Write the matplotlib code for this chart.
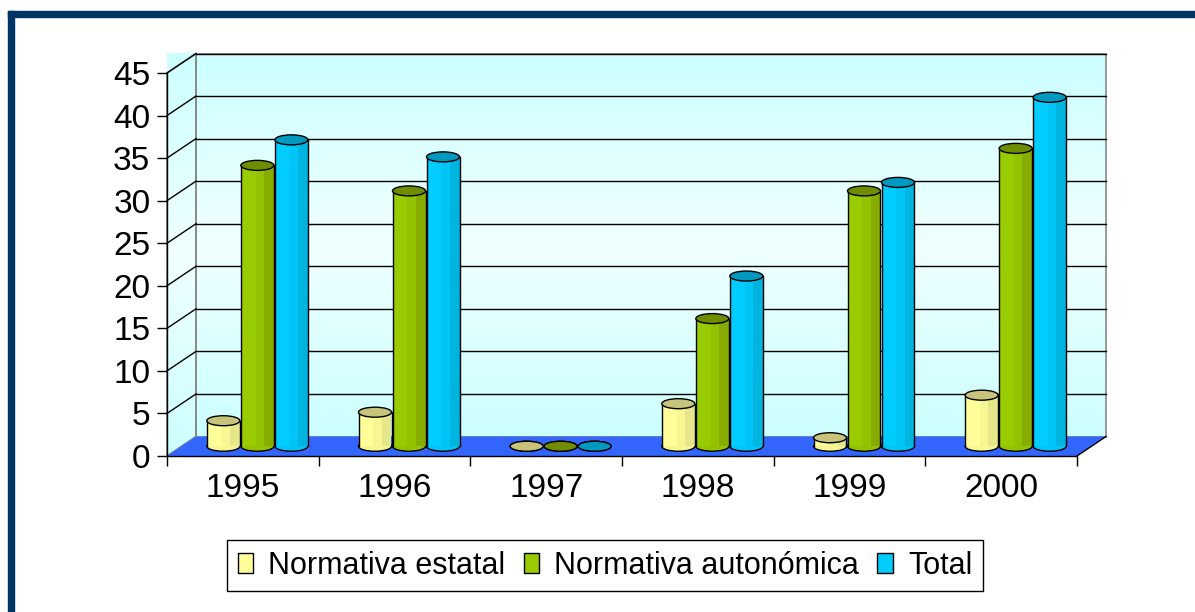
import numpy as np
import matplotlib.pyplot as plt
from matplotlib.patches import Polygon, Ellipse, Rectangle, Patch
from matplotlib.colors import to_rgb

plt.rcParams['font.family'] = ['Liberation Sans', 'DejaVu Sans']

# data
years = ['1995', '1996', '1997', '1998', '1999', '2000']
estatal = [3, 4, 0, 5, 1, 6]
autonomica = [33, 30, 0, 15, 30, 35]
total = [36, 34, 0, 20, 31, 41]
series_names = ['Normativa estatal', 'Normativa autonómica', 'Total']
yticks = list(range(0, 50, 5))

# colours: body light / mid / dark, top of cylinder
body = [['#FFFF99', '#F6F692', '#E6E68A'],
        ['#99CC00', '#92C200', '#86AC00'],
        ['#00CCFF', '#00C4F5', '#00B4E0']]
tops = ['#C8C47C', '#6E8E00', '#0099C0']

W, H = 1195, 612
fig = plt.figure(figsize=(W / 100, H / 100), dpi=100)

# dark frame (top and left only visible)
fig.add_artist(Rectangle((8 / W, 1 - 16.5 / H), 1, 6 / H, color='#003366',
                         transform=fig.transFigure))
fig.add_artist(Rectangle((8 / W, 0), 6 / W, 1 - 10.5 / H, color='#003366',
                         transform=fig.transFigure))

ax = fig.add_axes([167 / W, 1 - 456 / H, 910 / W, 383 / H])
n = len(years)
ymax = 45
DX = 29 / 910 * n      # depth offset in data units
DY = 19.5 / 383 * ymax


def wall_gradient():
    t = np.linspace(0, 1, 200)
    w = np.abs(t - 0.5) * 2
    light = np.array(to_rgb('#F0FFFF'))
    cyan = np.array(to_rgb('#CCFFFF'))
    cols = light[None, :] * (1 - w[:, None]) + cyan[None, :] * w[:, None]
    return cols[:, None, :]


# back wall
ax.imshow(wall_gradient(), extent=[DX, n + DX, DY, ymax + DY], origin='lower',
          aspect='auto', zorder=0, clip_on=False)
ax.add_patch(Rectangle((DX, DY), n, ymax, fill=False, ec='#888888', lw=1.2,
                       zorder=0.5, clip_on=False))

# side wall
side = Polygon([(0, 0), (0, ymax), (DX, ymax + DY), (DX, DY)], closed=True,
               fill=False, ec='#888888', lw=1.2, zorder=0.5, clip_on=False)
ax.add_patch(side)
im = ax.imshow(wall_gradient(), extent=[0, DX, 0, ymax + DY], origin='lower',
               aspect='auto', zorder=0, clip_on=False)
im.set_clip_path(side)

# gridlines on both walls
for v in yticks[1:]:
    ax.plot([DX, n + DX], [v + DY, v + DY], color='black', lw=1, zorder=0.6, clip_on=False)
    ax.plot([0, DX], [v, v + DY], color='black', lw=1, zorder=0.6, clip_on=False)

# floor
ax.add_patch(Polygon([(0, 0), (n, 0), (n + DX, DY), (DX, DY)], closed=True,
                     fc='#3366FF', ec='none', zorder=1, clip_on=False))
ax.plot([n, n + DX], [0, DY], color='black', lw=1, zorder=1.1, clip_on=False)

# cylinders
series = [estatal, autonomica, total]
bw = 33 / 910 * n
step = 34 / 910 * n
eh = 10 / 383 * ymax
base = DY / 2
fr = [0, 0.45, 0.7, 1]
for i in range(n):
    for j, vals in enumerate(series):
        xc = i + 0.5 + (j - 1) * step + DX / 2
        v = vals[i]
        z = 3 + i * 3 + j
        ax.add_patch(Ellipse((xc, base), bw, eh, fc=body[j][1], ec='black', lw=1,
                             zorder=z, clip_on=False))
        for k in range(3):
            ax.bar(xc - bw / 2 + fr[k] * bw, v, width=(fr[k + 1] - fr[k]) * bw,
                   bottom=base, align='edge', color=body[j][k], lw=0,
                   zorder=z + 0.1, clip_on=False)
        ax.plot([xc - bw / 2] * 2, [base, base + v], color='black', lw=1, zorder=z + 0.2)
        ax.plot([xc + bw / 2] * 2, [base, base + v], color='black', lw=1, zorder=z + 0.2)
        ax.add_patch(Ellipse((xc, base + v), bw, eh, fc=tops[j], ec='black', lw=1,
                             zorder=z + 0.3, clip_on=False))

ax.set_xlim(0, n)
ax.set_ylim(0, ymax)
ax.set_facecolor('none')
for s in ['top', 'right']:
    ax.spines[s].set_visible(False)
for s in ['left', 'bottom']:
    ax.spines[s].set_color('black')
    ax.spines[s].set_linewidth(1)
    ax.spines[s].set_zorder(1.2)

ax.set_yticks(yticks)
ax.tick_params(axis='y', length=7, width=1, direction='out', labelsize=24, pad=5)
ax.set_xticks(range(n + 1))
ax.set_xticklabels([])
ax.tick_params(axis='x', which='major', length=7, width=1, direction='out')
ax.set_xticks([i + 0.5 for i in range(n)], minor=True)
ax.set_xticklabels(years, minor=True)
ax.tick_params(axis='x', which='minor', length=0, labelsize=24, pad=12)

handles = [Patch(facecolor=body[j][0], edgecolor='black', lw=1) for j in range(3)]
leg = fig.legend(handles, series_names, loc='center',
                 bbox_to_anchor=(605 / W, 1 - 565.5 / H), ncol=3, fontsize=22,
                 frameon=True, fancybox=False, edgecolor='black', framealpha=1,
                 handlelength=0.5, handleheight=0.65, handletextpad=0.5,
                 columnspacing=0.6, borderpad=0.35)
leg.get_frame().set_linewidth(1)

plt.savefig('out.png', dpi=100)
